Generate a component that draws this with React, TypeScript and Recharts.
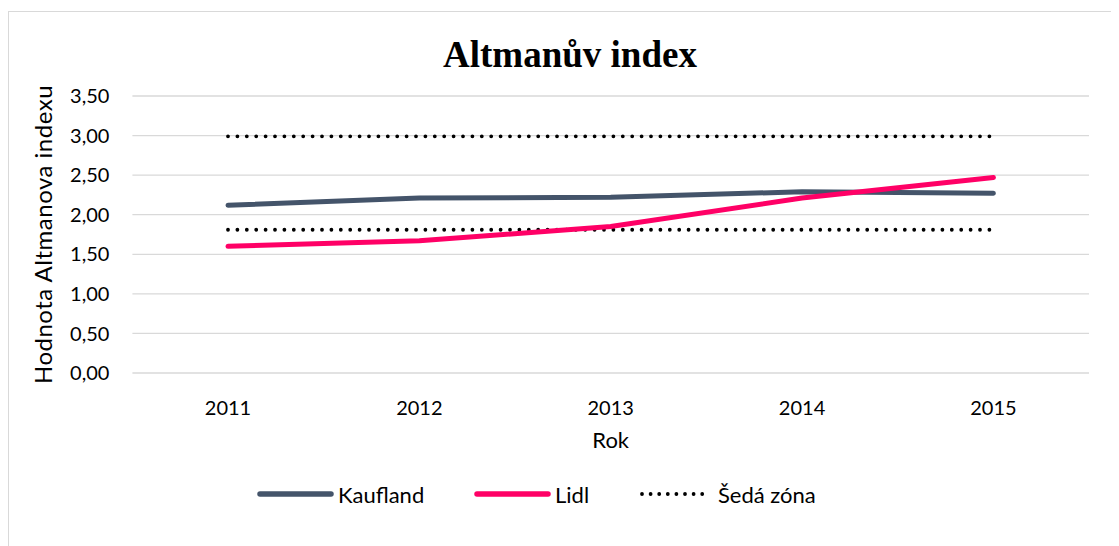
import React from 'react';
import { LineChart, Line, XAxis, YAxis, CartesianGrid } from 'recharts';

const years = ['2011', '2012', '2013', '2014', '2015'];
const kaufland = [2.12, 2.21, 2.22, 2.29, 2.27];
const lidl = [1.6, 1.67, 1.85, 2.21, 2.47];
const greyUpper = [2.99, 2.99, 2.99, 2.99, 2.99];
const greyLower = [1.81, 1.81, 1.81, 1.81, 1.81];
const yTicks = [0, 0.5, 1, 1.5, 2, 2.5, 3, 3.5];

const seriesNames = { kaufland: 'Kaufland', lidl: 'Lidl', grey: 'Šedá zóna' };
const colors = { kaufland: '#44546A', lidl: '#FF0066', grey: '#000000' };

const data = years.map((year, i) => ({
  year,
  kaufland: kaufland[i],
  lidl: lidl[i],
  greyUpper: greyUpper[i],
  greyLower: greyLower[i],
}));

const FONT = 'Lato, "Noto Sans", sans-serif';
const fmt = (v: number) => v.toFixed(2).replace('.', ',');

function LegendItem({ left, color, dotted, label }: { left: number; color: string; dotted?: boolean; label: string }) {
  return (
    <div style={{ position: 'absolute', left, top: 472, height: 28, display: 'flex', alignItems: 'center' }}>
      <svg width={dotted ? 72 : 80} height={10} style={{ display: 'block' }}>
        {dotted ? (
          <line x1={3} y1={5} x2={64} y2={5} stroke={color} strokeWidth={3.8} strokeDasharray="0 8.6" strokeLinecap="round" />
        ) : (
          <line x1={3} y1={5} x2={74} y2={5} stroke={color} strokeWidth={5.5} strokeLinecap="round" />
        )}
      </svg>
      <span style={{ fontFamily: FONT, fontSize: 22, color: '#000', marginLeft: dotted ? 7 : 1 }}>{label}</span>
    </div>
  );
}

export default function App() {
  return (
    <div style={{ position: 'relative', width: 1111, height: 538, overflow: 'hidden', background: '#fff', fontFamily: FONT }}>
      <div style={{ position: 'absolute', left: 0, top: 3, width: 1400, height: 800, border: '1.5px solid #D9D9D9', boxSizing: 'border-box' }} />
      <div
        style={{
          position: 'absolute',
          left: 262,
          top: 29,
          width: 600,
          textAlign: 'center',
          fontFamily: '"Liberation Serif", "Times New Roman", serif',
          fontWeight: 'bold',
          fontSize: 37,
          lineHeight: '36px',
          color: '#000',
        }}
      >
        Altmanův index
      </div>
      <div style={{ position: 'absolute', left: 0, top: 0 }}>
        <LineChart width={1111} height={538} data={data} margin={{ top: 88, right: 30, left: 0, bottom: 93 }}>
          <CartesianGrid vertical={false} stroke="#D9D9D9" strokeWidth={1.3} />
          <XAxis
            dataKey="year"
            axisLine={false}
            tickLine={false}
            tickSize={0}
            tickMargin={28}
            height={80}
            padding={{ left: 95.6, right: 95.6 }}
            tick={{ fontFamily: FONT, fontSize: 20, fill: '#000' }}
            label={{ value: 'Rok', position: 'insideBottom', offset: 5, style: { fontFamily: FONT, fontSize: 22, fill: '#000' } }}
          />
          <YAxis
            domain={[0, 3.5]}
            ticks={yTicks}
            width={124.4}
            axisLine={false}
            tickLine={false}
            tickSize={0}
            tickMargin={23}
            tickFormatter={fmt}
            tick={{ fontFamily: FONT, fontSize: 20, fill: '#000' }}
            label={{
              value: 'Hodnota Altmanova indexu',
              angle: -90,
              position: 'center',
              dx: -27,
              style: { fontFamily: FONT, fontSize: 24, letterSpacing: 0.5, fill: '#000', textAnchor: 'middle' },
            }}
          />
          <Line dataKey="greyUpper" name={seriesNames.grey} stroke={colors.grey} strokeWidth={3.8} strokeDasharray="0 9.4" strokeLinecap="round" dot={false} isAnimationActive={false} />
          <Line dataKey="greyLower" name={seriesNames.grey} stroke={colors.grey} strokeWidth={3.8} strokeDasharray="0 9.4" strokeLinecap="round" dot={false} isAnimationActive={false} />
          <Line dataKey="kaufland" name={seriesNames.kaufland} stroke={colors.kaufland} strokeWidth={5} strokeLinecap="round" strokeLinejoin="round" dot={false} isAnimationActive={false} />
          <Line dataKey="lidl" name={seriesNames.lidl} stroke={colors.lidl} strokeWidth={5} strokeLinecap="round" strokeLinejoin="round" dot={false} isAnimationActive={false} />
        </LineChart>
      </div>
      <LegendItem left={249} color={colors.kaufland} label={seriesNames.kaufland} />
      <LegendItem left={466} color={colors.lidl} label={seriesNames.lidl} />
      <LegendItem left={631} color={colors.grey} dotted label={seriesNames.grey} />
    </div>
  );
}
